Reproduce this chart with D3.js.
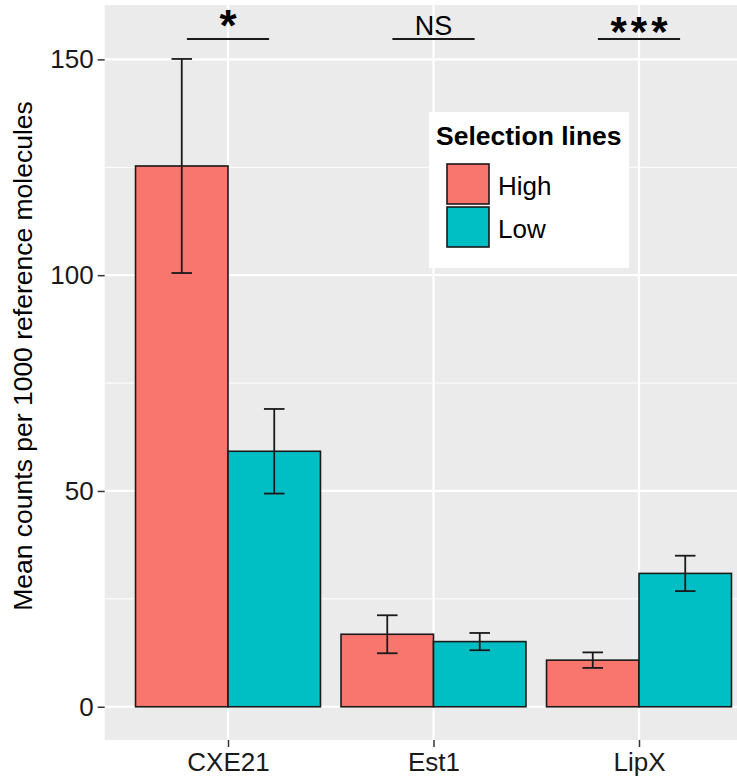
<!DOCTYPE html>
<html>
  <script src="https://d3js.org/d3.v7.min.js" type="text/JavaScript"></script>
  <style>
    body { margin: 0; background: #fff; }
    text { font-family: "Liberation Sans", Arial, sans-serif; }
  </style>
  <body>
    <svg></svg>
    <script>
// data
var genes = ['CXE21', 'Est1', 'LipX'];
var lines = ['High', 'Low'];
var highMean = [125.3, 16.8, 10.8];
var highErr = [24.8, 4.4, 1.8];
var lowMean = [59.2, 15.1, 30.9];
var lowErr = [9.8, 2.0, 4.1];
var sigLabels = ['*', 'NS', '***'];
var yTicks = [0, 50, 100, 150];
var yMinor = [25, 75, 125];

var W = 737, H = 777;
var colors = { High: '#F8766D', Low: '#00BFC4' };

var data = [];
genes.forEach((g, i) => {
  data.push({ gene: g, line: 'High', mean: highMean[i], err: highErr[i] });
  data.push({ gene: g, line: 'Low', mean: lowMean[i], err: lowErr[i] });
});

var svg = d3.select('svg').attr('width', W).attr('height', H);

// panel: x expands past the right edge like the cropped original
var x = d3.scalePoint().domain(genes).range([228, 639]);
var step = x.step();
var panelL = x('CXE21') - 0.6 * step, panelR = x('LipX') + 0.6 * step;
var y = d3.scaleLinear().domain([-7.7, 162.6]).range([740, 5]);

svg.append('rect')
  .attr('x', panelL).attr('y', y(162.6))
  .attr('width', panelR - panelL).attr('height', y(-7.7) - y(162.6))
  .attr('fill', '#EBEBEB');

// grid
svg.selectAll('.minor').data(yMinor).enter().append('line')
  .attr('x1', panelL).attr('x2', panelR)
  .attr('y1', d => y(d)).attr('y2', d => y(d))
  .attr('stroke', '#fff').attr('stroke-width', 1);
svg.selectAll('.major').data(yTicks).enter().append('line')
  .attr('x1', panelL).attr('x2', panelR)
  .attr('y1', d => y(d)).attr('y2', d => y(d))
  .attr('stroke', '#fff').attr('stroke-width', 2.2);
svg.selectAll('.vgrid').data(genes).enter().append('line')
  .attr('x1', d => x(d)).attr('x2', d => x(d))
  .attr('y1', y(162.6)).attr('y2', y(-7.7))
  .attr('stroke', '#fff').attr('stroke-width', 2.2);

// bars
var barW = 0.45 * step;
var sub = d3.scaleBand().domain(lines).range([-barW, barW]);

svg.selectAll('.bar').data(data).enter().append('rect')
  .attr('x', d => x(d.gene) + sub(d.line))
  .attr('y', d => y(d.mean))
  .attr('width', sub.bandwidth())
  .attr('height', d => y(0) - y(d.mean))
  .attr('fill', d => colors[d.line])
  .attr('stroke', '#1a1a1a').attr('stroke-width', 1.6);

// error bars
var capW = 0.1 * step;
var eb = svg.selectAll('.eb').data(data).enter().append('g')
  .attr('stroke', '#1a1a1a').attr('stroke-width', 1.8);
eb.append('line')
  .attr('x1', d => x(d.gene) + sub(d.line) + barW / 2)
  .attr('x2', d => x(d.gene) + sub(d.line) + barW / 2)
  .attr('y1', d => y(d.mean - d.err)).attr('y2', d => y(d.mean + d.err));
[-1, 1].forEach(s => {
  eb.append('line')
    .attr('x1', d => x(d.gene) + sub(d.line) + barW / 2 - capW / 2)
    .attr('x2', d => x(d.gene) + sub(d.line) + barW / 2 + capW / 2)
    .attr('y1', d => y(d.mean + s * d.err)).attr('y2', d => y(d.mean + s * d.err));
});

// significance marks
svg.selectAll('.sig').data(genes).enter().append('line')
  .attr('x1', d => x(d) - 0.2 * step).attr('x2', d => x(d) + 0.2 * step)
  .attr('y1', y(154.7)).attr('y2', y(154.7))
  .attr('stroke', '#1a1a1a').attr('stroke-width', 2);
var sigStyle = {
  '*':   { size: 44, weight: 'bold', yv: 154.2, ls: 0 },
  'NS':  { size: 27, weight: 'normal', yv: 155.6, ls: 0 },
  '***': { size: 42, weight: 'bold', yv: 153.2, ls: 4 }
};
svg.selectAll('.sigt').data(genes).enter().append('text')
  .attr('x', (d, i) => x(d) + sigStyle[sigLabels[i]].ls / 2)
  .attr('y', (d, i) => y(sigStyle[sigLabels[i]].yv))
  .attr('text-anchor', 'middle')
  .attr('font-size', (d, i) => sigStyle[sigLabels[i]].size + 'px')
  .attr('font-weight', (d, i) => sigStyle[sigLabels[i]].weight)
  .attr('letter-spacing', (d, i) => sigStyle[sigLabels[i]].ls)
  .attr('fill', '#000')
  .text((d, i) => sigLabels[i]);

// axes
var yAxis = svg.append('g').attr('transform', 'translate(' + panelL + ',0)')
  .call(d3.axisLeft(y).tickValues(yTicks).tickSize(7).tickPadding(4));
yAxis.select('.domain').remove();
yAxis.selectAll('line').attr('stroke', '#333').attr('stroke-width', 1.5);
yAxis.selectAll('text').attr('font-size', '26px').attr('fill', '#1a1a1a')
  .attr('font-family', '"Liberation Sans", Arial, sans-serif');

var xAxis = svg.append('g').attr('transform', 'translate(0,' + y(-7.7) + ')')
  .call(d3.axisBottom(x).tickSize(7).tickPadding(6));
xAxis.select('.domain').remove();
xAxis.selectAll('line').attr('stroke', '#333').attr('stroke-width', 1.5);
xAxis.selectAll('text').attr('font-size', '26px').attr('fill', '#1a1a1a')
  .attr('font-family', '"Liberation Sans", Arial, sans-serif');

svg.append('text')
  .attr('transform', 'translate(32,356) rotate(-90)')
  .attr('text-anchor', 'middle')
  .attr('font-size', '26.5px').attr('fill', '#000')
  .text('Mean counts per 1000 reference molecules');

// legend
var leg = svg.append('g').attr('transform', 'translate(429,112)');
leg.append('rect').attr('width', 200).attr('height', 156).attr('fill', '#fff');
leg.append('text').attr('x', 7).attr('y', 33)
  .attr('font-size', '26.5px').attr('font-weight', 'bold').text('Selection lines');
var keys = leg.selectAll('.key').data(lines).enter().append('g')
  .attr('transform', (d, i) => 'translate(18,' + (52 + i * 43) + ')');
keys.append('rect').attr('width', 42).attr('height', 40)
  .attr('fill', d => colors[d]).attr('stroke', '#1a1a1a').attr('stroke-width', 1.6);
keys.append('text').attr('x', 51).attr('y', 31)
  .attr('font-size', '26px').text(d => d);
    </script>
  </body>
</html>
